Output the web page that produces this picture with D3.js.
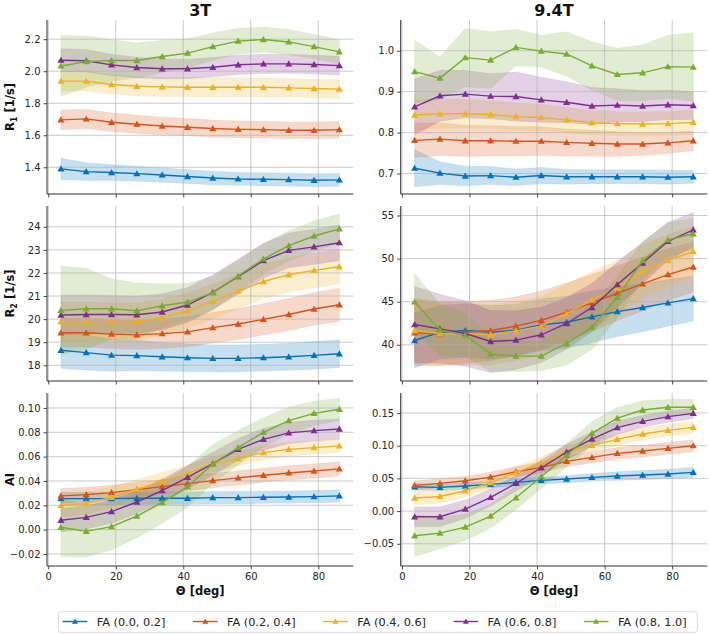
<!DOCTYPE html>
<html>
<head>
<meta charset="utf-8">
<script src="https://cdn.jsdelivr.net/npm/d3@7"></script>
<style>
  body { margin: 0; background: #fff; }
  svg { font-family: "DejaVu Sans", sans-serif; }
</style>
</head>
<body>
<div id="chart"></div>
<script>

//Angle bins (deg) and FA groups
var theta = [3.75, 11.25, 18.75, 26.25, 33.75, 41.25, 48.75, 56.25, 63.75, 71.25, 78.75, 86.25];
var faGroups = ["FA (0.0, 0.2]", "FA (0.2, 0.4]", "FA (0.4, 0.6]", "FA (0.6, 0.8]", "FA (0.8, 1.0]"];
var faColors = ["#0072BD", "#D95319", "#EDB120", "#7E2F8E", "#77AC30"];

//R1 at 3T: mean and sd per FA group
var r1_3T_mean = [
    [1.390, 1.373, 1.367, 1.360, 1.352, 1.342, 1.333, 1.327, 1.325, 1.323, 1.319, 1.321],
    [1.696, 1.702, 1.681, 1.669, 1.658, 1.650, 1.642, 1.637, 1.635, 1.631, 1.631, 1.635],
    [1.938, 1.938, 1.917, 1.906, 1.902, 1.900, 1.900, 1.900, 1.900, 1.896, 1.892, 1.888],
    [2.069, 2.065, 2.040, 2.023, 2.015, 2.015, 2.025, 2.040, 2.046, 2.046, 2.042, 2.035],
    [2.033, 2.060, 2.067, 2.067, 2.092, 2.113, 2.154, 2.188, 2.198, 2.183, 2.154, 2.121]];
var r1_3T_sd = [
    [0.066, 0.055, 0.050, 0.047, 0.045, 0.043, 0.042, 0.040, 0.040, 0.040, 0.040, 0.040],
    [0.062, 0.060, 0.058, 0.056, 0.055, 0.054, 0.053, 0.052, 0.052, 0.052, 0.052, 0.052],
    [0.062, 0.061, 0.060, 0.060, 0.060, 0.060, 0.060, 0.060, 0.060, 0.058, 0.058, 0.058],
    [0.072, 0.070, 0.066, 0.064, 0.062, 0.060, 0.060, 0.060, 0.060, 0.058, 0.058, 0.058],
    [0.190, 0.160, 0.130, 0.110, 0.100, 0.090, 0.085, 0.080, 0.078, 0.078, 0.076, 0.075]];

//R1 at 9.4T
var r1_94T_mean = [
    [0.713, 0.701, 0.694, 0.695, 0.691, 0.695, 0.692, 0.692, 0.692, 0.692, 0.691, 0.692],
    [0.781, 0.784, 0.780, 0.780, 0.779, 0.779, 0.776, 0.774, 0.772, 0.772, 0.775, 0.780],
    [0.843, 0.846, 0.846, 0.844, 0.839, 0.837, 0.831, 0.824, 0.822, 0.821, 0.822, 0.825],
    [0.863, 0.890, 0.894, 0.889, 0.888, 0.880, 0.874, 0.865, 0.867, 0.865, 0.868, 0.866],
    [0.949, 0.933, 0.983, 0.977, 1.008, 0.999, 0.992, 0.963, 0.942, 0.946, 0.961, 0.960]];
var r1_94T_sd = [
    [0.045, 0.028, 0.024, 0.022, 0.020, 0.020, 0.018, 0.017, 0.017, 0.017, 0.017, 0.016],
    [0.042, 0.040, 0.038, 0.037, 0.036, 0.035, 0.033, 0.032, 0.030, 0.028, 0.026, 0.024],
    [0.038, 0.036, 0.035, 0.034, 0.033, 0.032, 0.031, 0.030, 0.029, 0.029, 0.029, 0.030],
    [0.068, 0.062, 0.058, 0.055, 0.060, 0.055, 0.050, 0.045, 0.040, 0.038, 0.036, 0.034],
    [0.076, 0.052, 0.071, 0.069, 0.044, 0.039, 0.054, 0.059, 0.064, 0.068, 0.077, 0.084]];

//R2 at 3T
var r2_3T_mean = [
    [18.65, 18.55, 18.44, 18.42, 18.37, 18.33, 18.30, 18.30, 18.33, 18.37, 18.43, 18.50],
    [19.41, 19.41, 19.35, 19.32, 19.37, 19.45, 19.63, 19.79, 19.99, 20.20, 20.44, 20.62],
    [19.89, 19.89, 19.89, 19.90, 20.07, 20.36, 20.77, 21.21, 21.63, 21.92, 22.11, 22.27],
    [20.18, 20.20, 20.20, 20.19, 20.31, 20.61, 21.16, 21.84, 22.53, 22.98, 23.13, 23.31],
    [20.38, 20.45, 20.45, 20.36, 20.58, 20.74, 21.14, 21.86, 22.61, 23.18, 23.60, 23.91]];
var r2_3T_sd = [
    [0.78, 0.75, 0.70, 0.66, 0.62, 0.60, 0.58, 0.58, 0.58, 0.58, 0.60, 0.60],
    [0.62, 0.62, 0.62, 0.63, 0.64, 0.65, 0.66, 0.67, 0.68, 0.69, 0.70, 0.72],
    [0.85, 0.85, 0.82, 0.80, 0.78, 0.76, 0.75, 0.74, 0.74, 0.74, 0.75, 0.75],
    [0.85, 0.85, 0.82, 0.80, 0.78, 0.76, 0.75, 0.75, 0.75, 0.75, 0.76, 0.78],
    [1.92, 1.75, 1.30, 1.20, 0.95, 0.80, 0.72, 0.68, 0.66, 0.65, 0.65, 0.64]];

//R2 at 9.4T
var r2_94T_mean = [
    [40.50, 41.46, 41.66, 41.46, 41.70, 42.31, 42.62, 43.24, 43.85, 44.32, 44.86, 45.36],
    [41.39, 41.27, 41.46, 41.66, 42.16, 42.85, 43.78, 44.86, 45.98, 47.06, 48.14, 49.02],
    [41.66, 41.31, 41.27, 41.16, 41.62, 42.16, 43.62, 45.20, 46.60, 48.52, 49.79, 50.83],
    [42.35, 41.85, 41.31, 40.38, 40.54, 41.16, 42.47, 44.32, 46.98, 49.49, 51.99, 53.34],
    [44.97, 41.70, 41.12, 38.92, 38.69, 38.69, 40.15, 42.04, 45.51, 49.76, 52.18, 52.88]];
var r2_94T_sd = [
    [3.2, 3.1, 3.1, 3.1, 3.0, 3.0, 3.0, 3.0, 2.9, 2.8, 2.7, 2.6],
    [3.8, 3.7, 3.6, 3.5, 3.4, 3.4, 3.4, 3.3, 3.2, 3.1, 3.0, 2.9],
    [3.8, 3.7, 3.6, 3.5, 3.4, 3.4, 3.4, 3.3, 3.2, 3.1, 3.0, 2.9],
    [4.4, 4.0, 3.8, 3.6, 3.4, 3.2, 3.0, 2.8, 2.6, 2.4, 2.2, 2.0],
    [3.3, 3.0, 2.5, 2.0, 1.8, 1.7, 2.5, 2.6, 2.4, 2.2, 2.0, 1.8]];

//AI at 3T
var ai_3T_mean = [
    [0.0255, 0.0255, 0.0255, 0.0258, 0.0258, 0.0258, 0.0263, 0.0263, 0.0266, 0.0268, 0.0271, 0.0277],
    [0.0277, 0.0288, 0.0304, 0.0329, 0.0353, 0.0378, 0.0403, 0.0425, 0.0447, 0.0466, 0.0482, 0.0499],
    [0.0197, 0.0216, 0.0266, 0.0332, 0.0395, 0.0460, 0.0537, 0.0584, 0.0633, 0.0660, 0.0674, 0.0688],
    [0.0077, 0.0101, 0.0148, 0.0227, 0.0320, 0.0430, 0.0542, 0.0660, 0.0742, 0.0795, 0.0814, 0.0827],
    [0.0019, -0.0014, 0.0025, 0.0112, 0.0222, 0.0353, 0.0540, 0.0674, 0.0800, 0.0896, 0.0956, 0.0989]];
var ai_3T_sd = [
    [0.0055, 0.0052, 0.0050, 0.0050, 0.0050, 0.0050, 0.0050, 0.0050, 0.0050, 0.0050, 0.0050, 0.0050],
    [0.0062, 0.0060, 0.0060, 0.0060, 0.0058, 0.0058, 0.0058, 0.0058, 0.0058, 0.0058, 0.0058, 0.0058],
    [0.0096, 0.0090, 0.0085, 0.0080, 0.0075, 0.0070, 0.0065, 0.0060, 0.0058, 0.0056, 0.0055, 0.0055],
    [0.0095, 0.0095, 0.0095, 0.0095, 0.0095, 0.0095, 0.0095, 0.0090, 0.0090, 0.0088, 0.0085, 0.0083],
    [0.0240, 0.0210, 0.0190, 0.0180, 0.0170, 0.0170, 0.0160, 0.0140, 0.0120, 0.0110, 0.0100, 0.0090]];

//AI at 9.4T
var ai_94T_mean = [
    [0.0372, 0.0362, 0.0383, 0.0408, 0.0439, 0.0469, 0.0490, 0.0515, 0.0536, 0.0551, 0.0566, 0.0592],
    [0.0393, 0.0423, 0.0464, 0.0520, 0.0602, 0.0668, 0.0760, 0.0821, 0.0883, 0.0918, 0.0959, 0.1000],
    [0.0199, 0.0224, 0.0311, 0.0434, 0.0587, 0.0740, 0.0908, 0.1005, 0.1097, 0.1179, 0.1235, 0.1281],
    [-0.0087, -0.0087, 0.0031, 0.0209, 0.0423, 0.0663, 0.0903, 0.1102, 0.1276, 0.1372, 0.1444, 0.1495],
    [-0.0378, -0.0337, -0.0245, -0.0077, 0.0204, 0.0526, 0.0852, 0.1189, 0.1423, 0.1546, 0.1587, 0.1587]];
var ai_94T_sd = [
    [0.0050, 0.0050, 0.0050, 0.0050, 0.0050, 0.0050, 0.0055, 0.0060, 0.0065, 0.0070, 0.0072, 0.0075],
    [0.0070, 0.0070, 0.0070, 0.0075, 0.0080, 0.0080, 0.0080, 0.0085, 0.0090, 0.0090, 0.0090, 0.0090],
    [0.0100, 0.0100, 0.0095, 0.0090, 0.0090, 0.0090, 0.0090, 0.0090, 0.0090, 0.0090, 0.0090, 0.0090],
    [0.0150, 0.0150, 0.0140, 0.0130, 0.0120, 0.0120, 0.0120, 0.0110, 0.0100, 0.0090, 0.0085, 0.0080],
    [0.0320, 0.0240, 0.0200, 0.0180, 0.0180, 0.0180, 0.0180, 0.0180, 0.0160, 0.0140, 0.0120, 0.0120]];

//Tick values
var xTicks = [0, 20, 40, 60, 80];
var r1_3T_ticks = [1.4, 1.6, 1.8, 2.0, 2.2];
var r1_94T_ticks = [0.7, 0.8, 0.9, 1.0];
var r2_3T_ticks = [18, 19, 20, 21, 22, 23, 24];
var r2_94T_ticks = [40, 45, 50, 55];
var ai_3T_ticks = [-0.02, 0, 0.02, 0.04, 0.06, 0.08, 0.10];
var ai_94T_ticks = [-0.05, 0, 0.05, 0.10, 0.15];

var columnTitles = ["3T", "9.4T"];
var rowLabels = [["R", "1", " [1/s]"], ["R", "2", " [1/s]"], ["AI", "", ""]];

//Layout
var width = 709, height = 634;
var cols = [[47, 353.3], [400.7, 707.2]];
var rows = [[20, 194], [206, 381], [393, 566]];
var xDomain = [-0.375, 90.375];

var panels = [
    {row: 0, col: 0, mean: r1_3T_mean, sd: r1_3T_sd, domain: [1.233, 2.32], ticks: r1_3T_ticks, fmt: ".1f"},
    {row: 0, col: 1, mean: r1_94T_mean, sd: r1_94T_sd, domain: [0.650, 1.075], ticks: r1_94T_ticks, fmt: ".1f"},
    {row: 1, col: 0, mean: r2_3T_mean, sd: r2_3T_sd, domain: [17.32, 24.9], ticks: r2_3T_ticks, fmt: "d"},
    {row: 1, col: 1, mean: r2_94T_mean, sd: r2_94T_sd, domain: [35.8, 56.1], ticks: r2_94T_ticks, fmt: "d"},
    {row: 2, col: 0, mean: ai_3T_mean, sd: ai_3T_sd, domain: [-0.0299, 0.1123], ticks: ai_3T_ticks, fmt: ".2f"},
    {row: 2, col: 1, mean: ai_94T_mean, sd: ai_94T_sd, domain: [-0.084, 0.1806], ticks: ai_94T_ticks, fmt: ".2f"}
];

var svg = d3.select("#chart")
    .append("svg")
    .attr("width", width)
    .attr("height", height);

var triangle = d3.symbol().type(d3.symbolTriangle).size(22);

////////////////////// PANELS //////////////////////

panels.forEach(function(p) {

    var xScale = d3.scaleLinear().domain(xDomain).range(cols[p.col]);
    var yScale = d3.scaleLinear().domain(p.domain).range([rows[p.row][1], rows[p.row][0]]);
    var x0 = cols[p.col][0], x1 = cols[p.col][1];
    var y0 = rows[p.row][0], y1 = rows[p.row][1];

    var g = svg.append("g").attr("class", "panel");

    //sd bands
    var area = d3.area()
        .x((d, i) => xScale(theta[i]))
        .y0(d => yScale(d[0]))
        .y1(d => yScale(d[1]));

    p.mean.forEach(function(m, k) {
        var band = m.map((v, i) => [v - p.sd[k][i], v + p.sd[k][i]]);
        g.append("path")
            .attr("d", area(band))
            .attr("fill", faColors[k])
            .attr("fill-opacity", 0.22)
            .attr("stroke", faColors[k])
            .attr("stroke-opacity", 0.12)
            .attr("stroke-width", 0.8);
    });

    //grid lines
    var grid = g.append("g").attr("class", "grid");
    grid.selectAll("line.gx")
        .data(xTicks)
        .enter()
        .append("line")
            .attr("x1", d => xScale(d))
            .attr("x2", d => xScale(d))
            .attr("y1", y0)
            .attr("y2", y1)
            .style("stroke", "#b0b0b0")
            .style("stroke-opacity", 0.75)
            .style("stroke-width", 0.9);
    grid.selectAll("line.gy")
        .data(p.ticks)
        .enter()
        .append("line")
            .attr("x1", x0)
            .attr("x2", x1)
            .attr("y1", d => yScale(d))
            .attr("y2", d => yScale(d))
            .style("stroke", "#b0b0b0")
            .style("stroke-opacity", 0.75)
            .style("stroke-width", 0.9);

    //mean lines and markers
    var line = d3.line()
        .x((d, i) => xScale(theta[i]))
        .y(d => yScale(d));

    p.mean.forEach(function(m, k) {
        g.append("path")
            .attr("d", line(m))
            .attr("fill", "none")
            .attr("stroke", faColors[k])
            .attr("stroke-width", 1.4);

        g.selectAll("path.mk" + k)
            .data(m)
            .enter()
            .append("path")
                .attr("class", "mk" + k)
                .attr("d", triangle)
                .attr("transform", (d, i) => "translate(" + xScale(theta[i]) + "," + (yScale(d) + 0.6) + ")")
                .attr("fill", faColors[k]);
    });

    //axes
    var yAxis = d3.axisLeft(yScale)
        .tickValues(p.ticks)
        .tickSize(3.5)
        .tickPadding(3)
        .tickFormat(d => d3.format(p.fmt)(d).replace("-", "\u2212"));

    var xAxis = d3.axisBottom(xScale)
        .tickValues(xTicks)
        .tickSize(3.5)
        .tickPadding(3)
        .tickFormat(p.row == 2 ? d3.format("d") : "");

    var ya = g.append("g")
        .attr("transform", "translate(" + x0 + ",0)")
        .call(yAxis);
    ya.select(".domain").attr("d", "M0," + y0 + "V" + y1);

    var xa = g.append("g")
        .attr("transform", "translate(0," + y1 + ")")
        .call(xAxis);
    xa.select(".domain").attr("d", "M" + x0 + ",0H" + x1);

    [ya, xa].forEach(function(a) {
        a.select(".domain").attr("stroke", "#333").attr("stroke-width", 1);
        a.selectAll(".tick line").attr("stroke", "#333").attr("stroke-width", 0.9);
        a.selectAll(".tick text")
            .attr("fill", "#262626")
            .style("font-size", "10px")
            .style("font-family", "DejaVu Sans, sans-serif");
    });
});

////////////////////// LABELS //////////////////////

//column titles
columnTitles.forEach(function(t, c) {
    svg.append("text")
        .attr("x", (cols[c][0] + cols[c][1]) / 2)
        .attr("y", 15.5)
        .attr("text-anchor", "middle")
        .style("font-size", "16px")
        .style("font-weight", "bold")
        .style("fill", "#111")
        .text(t);

    svg.append("text")
        .attr("x", (cols[c][0] + cols[c][1]) / 2)
        .attr("y", 594.5)
        .attr("text-anchor", "middle")
        .style("font-size", "11.5px")
        .style("font-weight", "bold")
        .style("fill", "#111")
        .text("\u0398 [deg]");
});

//row labels
rowLabels.forEach(function(lab, r) {
    var t = svg.append("text")
        .attr("transform", "translate(13.5," + ((rows[r][0] + rows[r][1]) / 2) + ") rotate(-90)")
        .attr("text-anchor", "middle")
        .style("font-size", "11.5px")
        .style("font-weight", "bold")
        .style("fill", "#111");
    t.append("tspan").text(lab[0]);
    if (lab[1]) {
        t.append("tspan")
            .attr("dy", 3)
            .style("font-size", "8px")
            .text(lab[1]);
        t.append("tspan")
            .attr("dy", -3)
            .text(lab[2]);
    }
});

////////////////////// LEGEND //////////////////////

var legend = svg.append("g").attr("class", "legend");

legend.append("rect")
    .attr("x", 58.3)
    .attr("y", 611.7)
    .attr("width", 639)
    .attr("height", 20.6)
    .attr("rx", 2.5)
    .attr("fill", "white")
    .attr("stroke", "#d6d6d6")
    .attr("stroke-width", 0.9);

var legendScale = d3.scaleBand()
    .domain(d3.range(faGroups.length))
    .range([62.7, 62.7 + 130.3 * faGroups.length]);

var items = legend.selectAll("g.item")
    .data(faGroups)
    .enter()
    .append("g")
        .attr("class", "item")
        .attr("transform", (d, i) => "translate(" + legendScale(i) + ",621.5)");

items.append("line")
    .attr("x1", 0)
    .attr("x2", 24.6)
    .attr("stroke", (d, i) => faColors[i])
    .attr("stroke-width", 1.4);

items.append("path")
    .attr("d", d3.symbol().type(d3.symbolTriangle).size(16))
    .attr("transform", "translate(12.3,0.5)")
    .attr("fill", (d, i) => faColors[i]);

items.append("text")
    .attr("x", 34)
    .attr("y", 4)
    .style("font-size", "11.3px")
    .style("fill", "#222")
    .text(d => d);

</script>
</body>
</html>
